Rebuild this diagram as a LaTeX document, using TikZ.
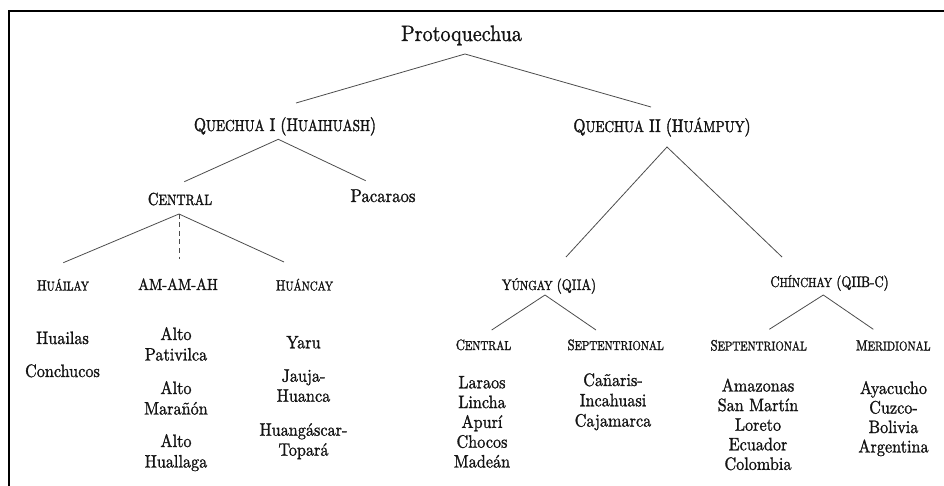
\documentclass[tikz,border=0pt]{standalone}
\usepackage{fontspec}
% Latin Modern, slightly narrowed and thickened
\setmainfont{lmroman10-regular.otf}[
  FakeStretch=0.9,
  RawFeature={embolden=1.2}]
% a narrower, heavier cut for the small-capital group names
\newfontfamily\groupfont{lmroman10-regular.otf}[
  FakeStretch=0.84,
  RawFeature={embolden=1.7}]
% small capitals drawn as reduced capitals of the same face
\makeatletter
\newcommand\smcap[1]{{\fontsize{\fpeval{0.86*\f@size}}{0}\selectfont #1}}
\makeatother
\begin{document}
\begin{tikzpicture}[x=1pt,y=-1pt,
  txt/.style={inner sep=0pt,anchor=base,text=black!92},
  big/.style={txt,font=\fontsize{22.3}{26}\selectfont},
  head/.style={txt,font=\groupfont\fontsize{18.4}{22}\selectfont},
  mid/.style={txt,font=\groupfont\fontsize{17.4}{21}\selectfont},
  plain/.style={txt,font=\fontsize{18.6}{22}\selectfont},
  dialect/.style={txt,font=\groupfont\fontsize{15.3}{18}\selectfont},
  sub/.style={txt,font=\groupfont\fontsize{15}{18}\selectfont},
  acro/.style={txt,font=\fontsize{16.1}{19}\selectfont},
  leaf/.style={txt,font=\fontsize{18}{21}\selectfont},
  branch/.style={draw=black!70,line width=0.8pt},
  frame/.style={draw=black,line width=2pt}]
\useasboundingbox (0,0) rectangle (944,486);
\draw[frame] (944,11) -- (9.2,11) -- (9.2,486);

% ---- labels ----
\node[big]  (proto)  at (461.5,41) {Protoquechua};
\node[head] (qi)     at (285,131)  {Q\smcap{UECHUA} I (H\smcap{UAIHUASH})};
\node[head] (qii)    at (662,132)  {Q\smcap{UECHUA} II (H\smcap{UÁMPUY})};
\node[mid]  (central) at (180,205) {C\smcap{ENTRAL}};
\node[plain] (pacaraos) at (383,202) {Pacaraos};
\node[sub]  (huailay) at (63,290.5) {H\smcap{UÁILAY}};
\node[acro] (amamah)  at (178,290) {AM-AM-AH};
\node[sub]  (huancay) at (304.5,290.5) {H\smcap{UÁNCAY}};
\node[dialect] (yungay)   at (549,290) {Y\smcap{ÚNGAY} (QIIA)};
\node[dialect] (chinchay) at (829.5,287) {C\smcap{HÍNCHAY} (QIIB-C)};
\node[sub]  (ycentral) at (483.5,350) {C\smcap{ENTRAL}};
\node[sub]  (ysept)    at (615.7,350) {S\smcap{EPTENTRIONAL}};
\node[sub]  (csept)    at (758.7,350.5) {S\smcap{EPTENTRIONAL}};
\node[sub]  (cmerid)   at (893.3,350.5) {M\smcap{ERIDIONAL}};

% ---- leaves ----
\node[leaf] (huailas)   at (62.5,344) {Huailas};
\node[leaf] (conchucos) at (62.5,377) {Conchucos};

\node[leaf] (altoa)     at (176,340)   {Alto};
\node[leaf] (pativilca) at (176,360.5) {Pativilca};
\node[leaf] (altob)     at (176,394)   {Alto};
\node[leaf] (maranon)   at (176,414.5) {Marañón};
\node[leaf] (altoc)     at (176,447)   {Alto};
\node[leaf] (huallaga)  at (176,467.5) {Huallaga};

\node[leaf] (yaru)       at (303.5,348.3) {Yaru};
\node[leaf] (jauja)      at (303.5,381.7) {Jauja-};
\node[leaf] (huanca)     at (303.5,401.7) {Huanca};
\node[leaf] (huangascar) at (303.5,435.7) {Huangáscar-};
\node[leaf] (topara)     at (303.5,455.7) {Topará};

\node[leaf] (laraos) at (482,388.3) {Laraos};
\node[leaf] (lincha) at (482,408.1) {Lincha};
\node[leaf] (apuri)  at (482,427.9) {Apurí};
\node[leaf] (chocos) at (482,447.7) {Chocos};
\node[leaf] (madean) at (482,467.5) {Madeán};

\node[leaf] (canaris)   at (613,386)   {Cañaris-};
\node[leaf] (incahuasi) at (613,406.3) {Incahuasi};
\node[leaf] (cajamarca) at (613,426.6) {Cajamarca};

\node[leaf] (amazonas)  at (758,391.5) {Amazonas};
\node[leaf] (sanmartin) at (758,411.1) {San Martín};
\node[leaf] (loreto)    at (758,430.7) {Loreto};
\node[leaf] (ecuador)   at (758,450.3) {Ecuador};
\node[leaf] (colombia)  at (758,469.9) {Colombia};

\node[leaf] (ayacucho)  at (893.5,394)   {Ayacucho};
\node[leaf] (cuzco)     at (893.5,413.5) {Cuzco-};
\node[leaf] (bolivia)   at (893.5,433)   {Bolivia};
\node[leaf] (argentina) at (893.5,452.5) {Argentina};

% ---- branch points: apex under each parent, tips above each child ----
\coordinate (proto-b) at (465,54);
\coordinate (qi-t)    at (296,103);
\coordinate (qii-t)   at (651,107);
\coordinate (qi-b)    at (278.3,139.3);
\coordinate (central-t) at (184.3,181.7);
\coordinate (pacaraos-t) at (365.7,180.7);
\coordinate (qii-b)   at (667,147);
\coordinate (yungay-t) at (566,257);
\coordinate (chinchay-t) at (782,257);
\coordinate (central-b) at (179,214);
\coordinate (huailay-t) at (63.3,262.7);
\coordinate (amamah-t)  at (179,259);
\coordinate (huancay-t) at (284,262);
\coordinate (yungay-b)  at (545,295);
\coordinate (ycentral-t) at (491.7,330);
\coordinate (ysept-t)    at (596,330);
\coordinate (chinchay-b) at (823.3,295);
\coordinate (csept-t)    at (769.3,329.3);
\coordinate (cmerid-t)   at (873.3,329.3);

\draw[branch] (qi-t) -- (proto-b) -- (qii-t);
\draw[branch] (central-t) -- (qi-b) -- (pacaraos-t);
\draw[branch] (yungay-t) -- (qii-b) -- (chinchay-t);
\draw[branch] (huailay-t) -- (central-b) -- (huancay-t);
\draw[branch,dash pattern=on 5pt off 3.5pt] (central-b) -- (amamah-t);
\draw[branch] (ycentral-t) -- (yungay-b) -- (ysept-t);
\draw[branch] (csept-t) -- (chinchay-b) -- (cmerid-t);
\end{tikzpicture}
\end{document}
